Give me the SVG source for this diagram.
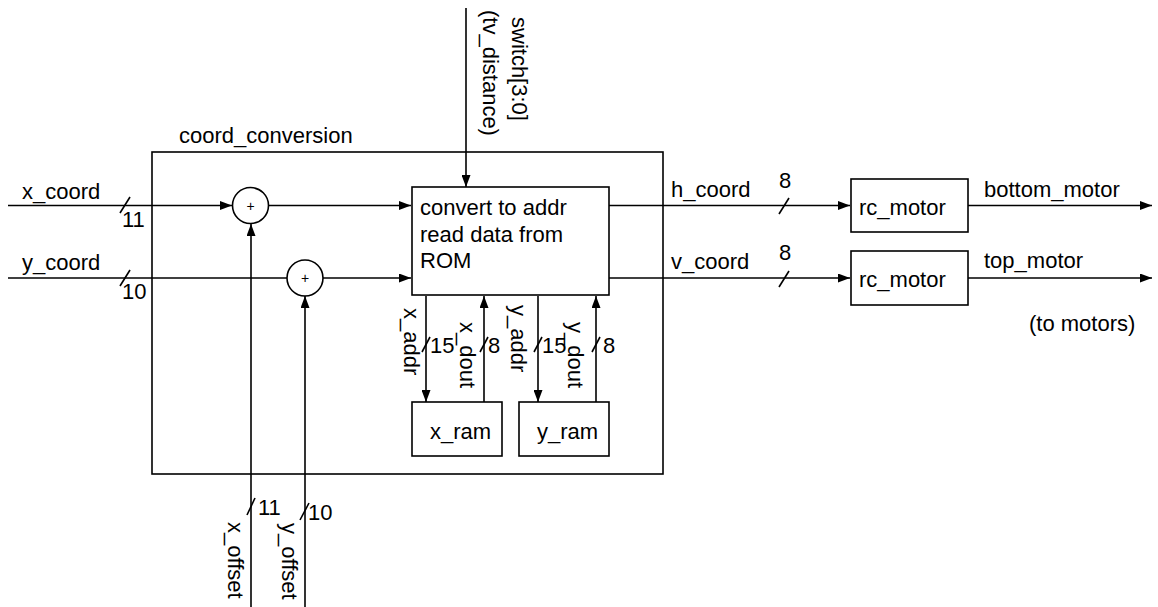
<svg xmlns="http://www.w3.org/2000/svg" width="1158" height="607" viewBox="0 0 1158 607">
<defs>
<style>
.ln{stroke:#000;stroke-width:1.6;fill:none}
.bx{stroke:#000;stroke-width:1.6;fill:#fff}
.nb{stroke:#000;stroke-width:1.6;fill:none}
text{font-family:"Liberation Sans",Arial,sans-serif;font-size:22px;fill:#000}
.plus{font-size:14px;text-anchor:middle}
</style>
<marker id="ah" markerWidth="13" markerHeight="9" refX="12" refY="4.5" orient="auto" markerUnits="userSpaceOnUse">
<path d="M0,0 L12,4.5 L0,9 z" fill="#000"/>
</marker>
</defs>
<rect width="1158" height="607" fill="#fff"/>

<g id="coord_conversion">
<rect x="152" y="152" width="511" height="322" class="nb"/>
<text x="179" y="143">coord_conversion</text>
</g>

<g id="connectors">
<!-- x_coord -->
<line x1="8" y1="205.5" x2="232" y2="205.5" class="ln" marker-end="url(#ah)"/>
<line x1="268" y1="205.5" x2="411" y2="205.5" class="ln" marker-end="url(#ah)"/>
<line x1="120" y1="213" x2="130" y2="197" class="ln"/>
<!-- y_coord -->
<line x1="8" y1="278" x2="287" y2="278" class="ln"/>
<line x1="323" y1="278" x2="411" y2="278" class="ln" marker-end="url(#ah)"/>
<line x1="120" y1="286" x2="130" y2="270" class="ln"/>
<!-- offsets -->
<line x1="251" y1="607" x2="251" y2="224" class="ln" marker-end="url(#ah)"/>
<line x1="305" y1="607" x2="305" y2="296" class="ln" marker-end="url(#ah)"/>
<line x1="247" y1="515" x2="255" y2="498" class="ln"/>
<line x1="300" y1="520" x2="309" y2="503" class="ln"/>
<!-- switch -->
<line x1="466" y1="8" x2="466" y2="187" class="ln" marker-end="url(#ah)"/>
<!-- ram -->
<line x1="426" y1="296" x2="426" y2="402" class="ln" marker-end="url(#ah)"/>
<line x1="484" y1="402" x2="484" y2="296" class="ln" marker-end="url(#ah)"/>
<line x1="538" y1="296" x2="538" y2="402" class="ln" marker-end="url(#ah)"/>
<line x1="596" y1="402" x2="596" y2="296" class="ln" marker-end="url(#ah)"/>
<line x1="422" y1="352" x2="430" y2="337" class="ln"/>
<line x1="480" y1="352" x2="488" y2="337" class="ln"/>
<line x1="534" y1="352" x2="542" y2="337" class="ln"/>
<line x1="592" y1="352" x2="600" y2="337" class="ln"/>
<!-- outputs -->
<line x1="609" y1="205.5" x2="850" y2="205.5" class="ln" marker-end="url(#ah)"/>
<line x1="609" y1="278" x2="850" y2="278" class="ln" marker-end="url(#ah)"/>
<line x1="779" y1="214" x2="789" y2="198" class="ln"/>
<line x1="779" y1="287" x2="789" y2="271" class="ln"/>
<line x1="968" y1="205.5" x2="1152" y2="205.5" class="ln" marker-end="url(#ah)"/>
<line x1="968" y1="278" x2="1152" y2="278" class="ln" marker-end="url(#ah)"/>
</g>

<g id="labels">
<text x="22" y="199">x_coord</text>
<text x="122" y="227">11</text>
<text x="22" y="270">y_coord</text>
<text x="122" y="299">10</text>
<text x="258" y="515">11</text>
<text x="308" y="520">10</text>
<text transform="translate(228,522) rotate(90)">x_offset</text>
<text transform="translate(282,523) rotate(90)">y_offset</text>
<text transform="translate(512,17) rotate(90)">switch[3:0]</text>
<text transform="translate(483,10) rotate(90)">(tv_distance)</text>
<text transform="translate(404,308) rotate(90)">x_addr</text>
<text transform="translate(460,322) rotate(90)">x_dout</text>
<text transform="translate(511,305) rotate(90)">y_addr</text>
<text transform="translate(568,322) rotate(90)">y_dout</text>
<text x="430" y="353">15</text>
<text x="488" y="353">8</text>
<text x="542" y="353">15</text>
<text x="603" y="353">8</text>
<text x="671" y="197">h_coord</text>
<text x="779" y="188">8</text>
<text x="671" y="269">v_coord</text>
<text x="779" y="260">8</text>
<text x="984" y="197">bottom_motor</text>
<text x="984" y="268">top_motor</text>
<text x="1029" y="331">(to motors)</text>
</g>

<g id="adder_x">
<circle cx="250.5" cy="205.5" r="18" class="bx"/>
<text x="250.5" y="210.5" class="plus">+</text>
</g>
<g id="adder_y">
<circle cx="305" cy="278" r="18" class="bx"/>
<text x="305" y="283" class="plus">+</text>
</g>

<g id="convert">
<rect x="412" y="187" width="197" height="108" class="bx"/>
<text x="420" y="215">convert to addr</text>
<text x="420" y="242">read data from</text>
<text x="420" y="268">ROM</text>
</g>

<g id="x_ram">
<rect x="412" y="402" width="90" height="54" class="bx"/>
<text x="430" y="439">x_ram</text>
</g>
<g id="y_ram">
<rect x="519" y="402" width="90" height="54" class="bx"/>
<text x="537" y="439">y_ram</text>
</g>

<g id="rc_motor_1">
<rect x="851" y="179" width="117" height="53" class="bx"/>
<text x="859" y="215">rc_motor</text>
</g>
<g id="rc_motor_2">
<rect x="851" y="251" width="117" height="54" class="bx"/>
<text x="859" y="287">rc_motor</text>
</g>
</svg>
